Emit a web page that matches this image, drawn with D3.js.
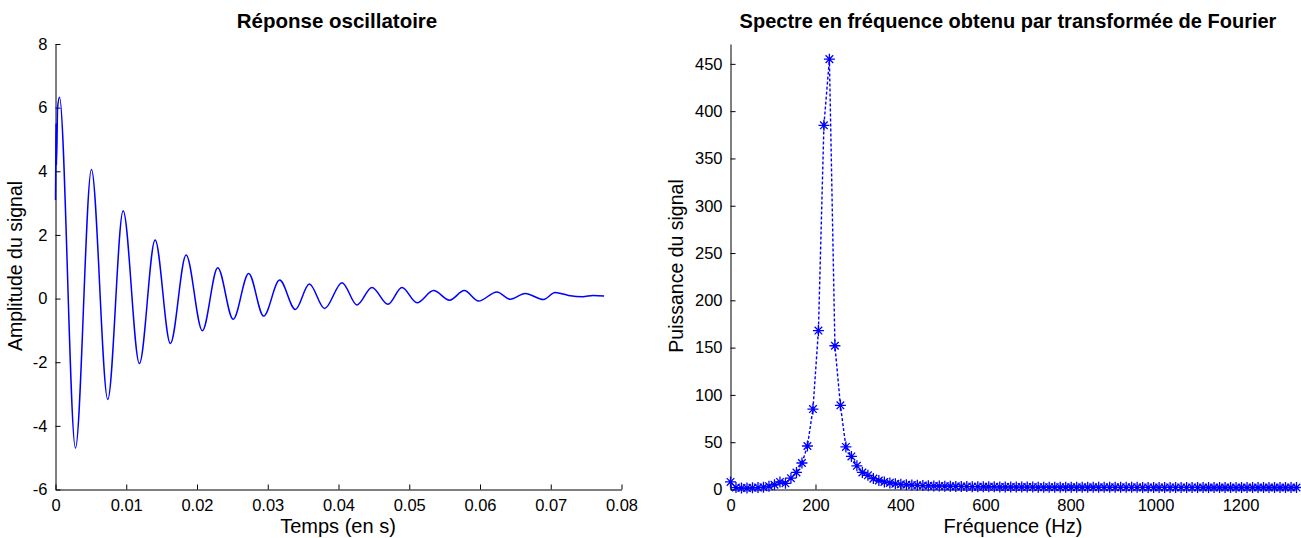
<!DOCTYPE html>
<html>
<head>
<meta charset="utf-8">
<script src="https://cdn.jsdelivr.net/npm/d3@7"></script>
<style>
  body { margin: 0; background: #fff; }
  text { font-family: "Liberation Sans", Arial, sans-serif; fill: #000; }
</style>
</head>
<body>
<script>
// left panel: damped oscillation, points read at the extrema
var timeS = [0, 0.00004, 0.00008, 0.00014, 0.0003, 0.00056, 0.00282, 0.00508, 0.00739, 0.00956,
  0.01186, 0.01408, 0.01624, 0.01846, 0.02076, 0.02293, 0.02511, 0.0273, 0.02942, 0.03168,
  0.0339, 0.03588, 0.03804, 0.0405, 0.04261, 0.04473, 0.04699, 0.04897, 0.0511, 0.05344,
  0.0557, 0.05777, 0.05979, 0.06239, 0.06427, 0.06638, 0.06897, 0.07062, 0.0725, 0.0745,
  0.076, 0.07754];
var amplitude = [3.1, 4.3, 5.5, 4.2, 6.0, 6.33, -4.70, 4.06, -3.17, 2.76,
  -2.04, 1.84, -1.41, 1.37, -1.01, 0.97, -0.65, 0.79, -0.55, 0.58,
  -0.34, 0.46, -0.31, 0.50, -0.20, 0.35, -0.18, 0.35, -0.13, 0.25,
  -0.05, 0.25, -0.08, 0.21, -0.02, 0.16, -0.03, 0.19, 0.10, 0.06,
  0.10, 0.08];

// right panel: spectrum
var freqHz = [0, 12.9, 25.9, 38.8, 51.7, 64.7, 77.6, 90.5, 103.4, 116.4,
  129.3, 142.2, 155.2, 168.1, 181.0, 194.0, 206.9, 219.8, 232.7, 245.7,
  258.6, 271.5, 284.5, 297.4, 310.3, 323.3, 336.2, 349.1, 362.0, 375.0,
  387.9, 400.8, 413.8, 426.7, 439.6, 452.6, 465.5, 478.4, 491.3, 504.3,
  517.2, 530.1, 543.1, 556.0, 568.9, 581.9, 594.8, 607.7, 620.6, 633.6,
  646.5, 659.4, 672.4, 685.3, 698.2, 711.2, 724.1, 737.0, 749.9, 762.9,
  775.8, 788.7, 801.7, 814.6, 827.5, 840.5, 853.4, 866.3, 879.2, 892.2,
  905.1, 918.0, 931.0, 943.9, 956.8, 969.8, 982.7, 995.6, 1008.5, 1021.5,
  1034.4, 1047.3, 1060.3, 1073.2, 1086.1, 1099.1, 1112.0, 1124.9, 1137.8, 1150.8,
  1163.7, 1176.6, 1189.6, 1202.5, 1215.4, 1228.4, 1241.3, 1254.2, 1267.1, 1280.1,
  1293.0, 1305.9, 1318.9, 1331.8];
var power = [8, 2, 1.5, 1.5, 1.8, 2, 2.5, 3.5, 5, 8,
  6.5, 12, 18, 28, 46, 85, 168, 385, 455, 152,
  89, 45, 35, 25, 18, 15, 11.5, 9.5, 8, 7,
  6, 5.5, 5, 4.7, 4.4, 4.2, 4, 3.8, 3.6, 3.5,
  3.4, 3.3, 3.2, 3.1, 3.0, 3.0, 2.9, 2.8, 2.8, 2.7,
  2.7, 2.7, 2.6, 2.6, 2.6, 2.6, 2.5, 2.5, 2.5, 2.5,
  2.5, 2.4, 2.4, 2.4, 2.4, 2.4, 2.4, 2.3, 2.3, 2.3,
  2.3, 2.3, 2.3, 2.3, 2.3, 2.2, 2.2, 2.2, 2.2, 2.2,
  2.2, 2.2, 2.2, 2.2, 2.2, 2.2, 2.1, 2.1, 2.1, 2.1,
  2.1, 2.1, 2.1, 2.1, 2.1, 2.1, 2.1, 2.1, 2.1, 2.1,
  2.1, 2.1, 2.1, 2.1];

var timeTicks = [0, 0.01, 0.02, 0.03, 0.04, 0.05, 0.06, 0.07, 0.08];
var ampTicks = [-6, -4, -2, 0, 2, 4, 6, 8];
var freqTicks = [0, 200, 400, 600, 800, 1000, 1200];
var powerTicks = [0, 50, 100, 150, 200, 250, 300, 350, 400, 450];

var W = 1301, H = 538;
var blue = "#0000ff";

var svg = d3.select("body").append("svg")
  .attr("width", W)
  .attr("height", H);

// draws left+bottom axes the matlab way (ticks pointing inward)
function drawAxes(g, x, y, xt, yt, xfmt) {
  var x0 = x.range()[0];
  var y0 = y.range()[0];

  var xa = g.append("g").attr("transform", "translate(0," + y0 + ")")
    .call(d3.axisBottom(x).tickValues(xt).tickFormat(xfmt).tickSizeInner(-5).tickSizeOuter(0).tickPadding(10));
  var ya = g.append("g").attr("transform", "translate(" + x0 + ",0)")
    .call(d3.axisLeft(y).tickValues(yt).tickFormat(function(d){ return String(d); }).tickSizeInner(-5).tickSizeOuter(0).tickPadding(8));

  [xa, ya].forEach(function(a){
    a.select(".domain").attr("stroke", "#000").attr("stroke-width", 1);
    a.selectAll(".tick line").attr("stroke", "#000");
    a.selectAll(".tick text").style("font-size", "16.5px").attr("fill", "#000");
  });
}

// ---------- left: signal
var xL = d3.scaleLinear().domain([0, 0.08]).range([55.5, 621.5]);
var yL = d3.scaleLinear().domain([-6, 8]).range([489.5, 44]);
var gL = svg.append("g");

drawAxes(gL, xL, yL, timeTicks, ampTicks, function(d){ return d === 0 ? "0" : d3.format(".2f")(d); });

var sig = timeS.map(function(t, i){ return [t, amplitude[i]]; });
gL.append("path")
  .datum(sig)
  .attr("fill", "none")
  .attr("stroke", blue)
  .attr("stroke-width", 1.5)
  .attr("d", d3.line()
    .curve(d3.curveMonotoneX)
    .x(function(d){ return xL(d[0]); })
    .y(function(d){ return yL(d[1]); }));

gL.append("text").attr("x", 337).attr("y", 28).attr("text-anchor", "middle")
  .style("font-size", "20.5px").style("font-weight", "bold").text("Réponse oscillatoire");
gL.append("text").attr("x", 338).attr("y", 533).attr("text-anchor", "middle")
  .style("font-size", "20px").text("Temps (en s)");
gL.append("text").attr("transform", "translate(22,266) rotate(-90)").attr("text-anchor", "middle")
  .style("font-size", "19.5px").text("Amplitude du signal");

// ---------- right: spectrum
var xR = d3.scaleLinear().domain([0, d3.max(freqHz)]).range([730.5, 1296.5]);
var yR = d3.scaleLinear().domain([0, 471]).range([489.5, 44]);
var gR = svg.append("g");

drawAxes(gR, xR, yR, freqTicks, powerTicks, function(d){ return String(d); });

var spec = freqHz.map(function(f, i){ return [f, power[i]]; });
gR.append("path")
  .datum(spec)
  .attr("fill", "none")
  .attr("stroke", blue)
  .attr("stroke-width", 1.4)
  .attr("stroke-dasharray", "3,2")
  .attr("d", d3.line()
    .x(function(d){ return xR(d[0]); })
    .y(function(d){ return yR(d[1]); }));

// matlab '*' marker
var star = "M-5.5,0H5.5M0,-5.5V5.5M-3.8,-3.8L3.8,3.8M-3.8,3.8L3.8,-3.8";
gR.selectAll("path.star")
  .data(spec)
  .enter()
  .append("path")
  .attr("class", "star")
  .attr("transform", function(d){ return "translate(" + xR(d[0]) + "," + yR(d[1]) + ")"; })
  .attr("d", star)
  .attr("fill", "none")
  .attr("stroke", blue)
  .attr("stroke-width", 1.3);

gR.append("text").attr("x", 1008).attr("y", 28).attr("text-anchor", "middle")
  .style("font-size", "20px").style("font-weight", "bold").text("Spectre en fréquence obtenu par transformée de Fourier");
gR.append("text").attr("x", 1013).attr("y", 533).attr("text-anchor", "middle")
  .style("font-size", "20px").text("Fréquence (Hz)");
gR.append("text").attr("transform", "translate(683,266) rotate(-90)").attr("text-anchor", "middle")
  .style("font-size", "19.5px").text("Puissance du signal");
</script>
</body>
</html>
